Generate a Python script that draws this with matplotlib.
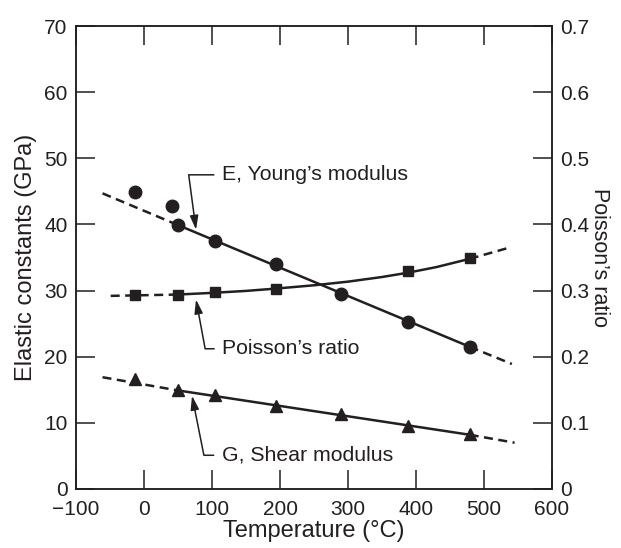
import matplotlib
matplotlib.use("Agg")
import matplotlib.pyplot as plt

plt.rcParams['font.family'] = ['Liberation Sans', 'DejaVu Sans']

# measured points
temp_e = [-13, 41, 50, 104, 194, 289, 388, 479]
young = [44.9, 42.8, 39.9, 37.5, 34.0, 29.5, 25.3, 21.5]
temp_p = [-13, 50, 104, 194, 388, 479]
poisson = [0.294, 0.294, 0.298, 0.303, 0.329, 0.350]
temp_g = [-13, 50, 104, 194, 289, 388, 479]
shear = [16.6, 15.0, 14.2, 12.6, 11.3, 9.6, 8.3]

# trend lines (dashed ends, solid middle)
young_fit_t = [-61, 50, 479, 541]
young_fit = [44.7, 39.9, 21.5, 18.9]
poisson_fit_t = [-49, 50, 100, 150, 194, 250, 300, 350, 388, 430, 479, 534]
poisson_fit = [0.292, 0.294, 0.2965, 0.2995, 0.303, 0.308, 0.3135, 0.3205,
               0.327, 0.3355, 0.348, 0.364]
shear_fit_t = [-61, 50, 479, 545]
shear_fit = [16.9, 14.9, 8.2, 7.0]

xticks = [-100, 0, 100, 200, 300, 400, 500, 600]
yticks = [0, 10, 20, 30, 40, 50, 60, 70]
rticks = [0, 0.1, 0.2, 0.3, 0.4, 0.5, 0.6, 0.7]
rtick_labels = ['0', '0.1', '0.2', '0.3', '0.4', '0.5', '0.6', '0.7']

ink = '#231f20'
lw = 1.8
dash = (0, (3.6, 2.2))


def draw_fit(axis, t, v, n_solid_end):
    # first segment dashed, last segment dashed, middle solid
    axis.plot(t[:2], v[:2], color=ink, lw=lw, ls=dash)
    axis.plot(t[1:n_solid_end + 1], v[1:n_solid_end + 1], color=ink, lw=lw)
    axis.plot(t[n_solid_end:], v[n_solid_end:], color=ink, lw=lw, ls=dash)


fig = plt.figure(figsize=(6.21, 5.48), dpi=100)
ax = fig.add_axes([76 / 621, 1 - 489 / 548, 476 / 621, 463 / 548])
ax2 = ax.twinx()

draw_fit(ax, young_fit_t, young_fit, 2)
draw_fit(ax, shear_fit_t, shear_fit, 2)
draw_fit(ax2, poisson_fit_t, poisson_fit, len(poisson_fit_t) - 2)

ax.plot(temp_e, young, 'o', color=ink, ms=9, ls='none')
ax.plot(temp_g, shear, '^', color=ink, ms=8, ls='none')
ax2.plot(temp_p, poisson, 's', color=ink, ms=7.8, ls='none')

ax.set_xlim(-100, 600)
ax.set_ylim(0, 70)
ax2.set_ylim(0, 0.7)
ax.set_xticks(xticks)
ax.set_yticks(yticks)
ax2.set_yticks(rticks)
ax2.set_yticklabels(rtick_labels)

ax.tick_params(direction='in', length=13.5, width=1.1, top=True, right=False,
               labelsize=15, colors=ink, pad=6)
ax.tick_params(axis='x', pad=8)
ax2.tick_params(direction='in', length=13.5, width=1.1, labelsize=15,
                colors=ink, pad=6)
for a in (ax, ax2):
    for s in a.spines.values():
        s.set_linewidth(1.1)
        s.set_color(ink)

ax.set_xlabel('Temperature (°C)', fontsize=17, color=ink, labelpad=1)
ax.set_ylabel('Elastic constants (GPa)', fontsize=17, color=ink, labelpad=5)
ax2.set_ylabel('Poisson’s ratio', fontsize=15.5, color=ink, rotation=270,
               labelpad=15)

arrow = dict(arrowstyle='-|>,head_length=0.6,head_width=0.18', mutation_scale=14,
             color=ink, lw=1.1, relpos=(0, 0.5), shrinkA=4, shrinkB=0)
notes = [
    ('E, Young’s modulus', (115, 47.5), (76.5, 39.2), 97.6),
    ('Poisson’s ratio', (115.4, 21.2), (76.5, 28.65), 100.5),
    ('G, Shear modulus', (114.7, 5.1), (70.6, 14.1), 101.3),
]
for txt, pos, tip, ang in notes:
    props = dict(arrow, connectionstyle='angle,angleA=0,angleB=%g,rad=0' % ang)
    ax.annotate(txt, xy=tip, xytext=pos, ha='left', va='center', fontsize=15.3,
                color=ink, arrowprops=props)

fig.savefig('out.png', dpi=100)
